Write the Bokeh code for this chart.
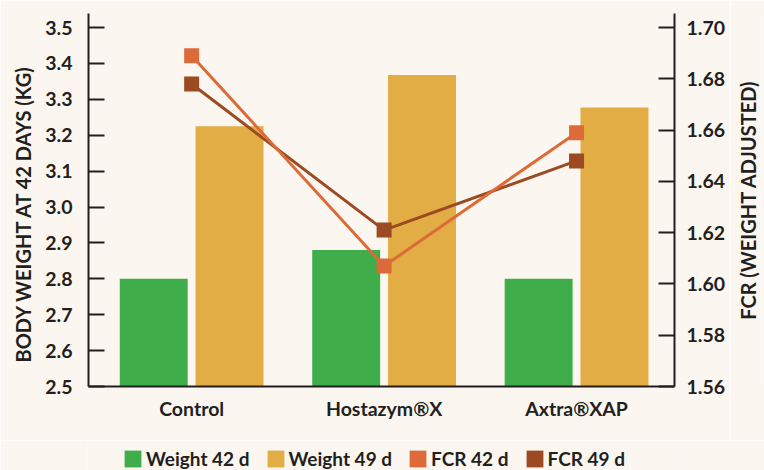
from bokeh.plotting import figure
from bokeh.layouts import column, row
from bokeh.models import (Range1d, LinearAxis, FixedTicker, NumeralTickFormatter,
                          ColumnDataSource, Legend, LegendItem, Title)
from bokeh.transform import dodge
from bokeh.embed import file_html
from bokeh.resources import INLINE

# ---- data ----
categories = ["Control", "Hostazym®X", "Axtra®XAP"]
weight_42 = [2.80, 2.88, 2.80]
weight_49 = [3.225, 3.368, 3.277]
fcr_42 = [1.689, 1.607, 1.659]
fcr_49 = [1.678, 1.621, 1.648]
weight_ticks = [2.5, 2.6, 2.7, 2.8, 2.9, 3.0, 3.1, 3.2, 3.3, 3.4, 3.5]
fcr_ticks = [1.56, 1.58, 1.60, 1.62, 1.64, 1.66, 1.68, 1.70]
series_labels = ["Weight 42 d", "Weight 49 d", "FCR 42 d", "FCR 49 d"]
left_title = "BODY WEIGHT AT 42 DAYS (KG)"
right_title = "FCR (WEIGHT ADJUSTED)"

# ---- styles ----
BG = "#FBF7F0"
TXT = "#231F20"
GREEN = "#3FAE4A"
GOLD = "#E2AD44"
ORANGE = "#DD6B3A"
BROWN = "#9B4A22"
FONT = "Lato"
FS = "19.5px"
FS_TITLE = "20px"
FS_LEG = "19px"

xi = list(range(len(categories)))
src = ColumnDataSource(dict(x=xi, w42=weight_42, w49=weight_49, f42=fcr_42, f49=fcr_49))

p = figure(width=730, height=440, output_backend="svg", toolbar_location=None,
           x_range=Range1d(-0.536, 2.509), y_range=Range1d(2.5, 3.539),
           min_border_left=87, min_border_right=56, min_border_top=13, min_border_bottom=54,
           background_fill_color=BG, border_fill_color=BG, outline_line_color=None)
p.grid.visible = False
p.extra_y_ranges = {"fcr": Range1d(1.56, 1.7055)}

bw = 0.353
p.vbar(x=dodge("x", -0.197), top="w42", bottom=2.5, width=bw, source=src,
       fill_color=GREEN, line_color=None)
p.vbar(x=dodge("x", 0.197), top="w49", bottom=2.5, width=bw, source=src,
       fill_color=GOLD, line_color=None)

p.line(x="x", y="f49", source=src, y_range_name="fcr", line_color=BROWN, line_width=3)
p.line(x="x", y="f42", source=src, y_range_name="fcr", line_color=ORANGE, line_width=3)
p.scatter(x="x", y="f49", source=src, y_range_name="fcr", marker="square", size=15,
          fill_color=BROWN, line_color=None)
p.scatter(x="x", y="f42", source=src, y_range_name="fcr", marker="square", size=15,
          fill_color=ORANGE, line_color=None)


def style_axis(ax):
    ax.axis_line_color = TXT
    ax.axis_line_width = 2
    ax.major_tick_line_color = TXT
    ax.major_tick_line_width = 2
    ax.minor_tick_line_color = None
    ax.major_label_text_font = FONT
    ax.major_label_text_font_style = "bold"
    ax.major_label_text_font_size = FS
    ax.major_label_text_color = TXT


# x axis
xa = p.xaxis[0]
style_axis(xa)
xa.ticker = FixedTicker(ticks=xi)
xa.major_label_overrides = {i: c for i, c in zip(xi, categories)}
xa.major_tick_in = 0
xa.major_tick_out = 0
xa.major_label_standoff = 10

# left axis
ya = p.yaxis[0]
style_axis(ya)
ya.ticker = FixedTicker(ticks=weight_ticks)
ya.formatter = NumeralTickFormatter(format="0.0")
ya.major_tick_in = 16
ya.major_tick_out = 0
ya.major_label_standoff = 16

# left title (reads bottom-to-top)
p.add_layout(Title(text=left_title, align="left", offset=24, standoff=16,
                   text_font=FONT, text_font_style="bold", text_font_size=FS_TITLE,
                   text_color=TXT), "left")

# right axis
ra = LinearAxis(y_range_name="fcr")
style_axis(ra)
ra.ticker = FixedTicker(ticks=fcr_ticks)
ra.formatter = NumeralTickFormatter(format="0.00")
ra.major_tick_in = 16
ra.major_tick_out = 0
ra.major_label_standoff = 12
p.add_layout(ra, "right")

# narrow strip on the right carrying the right-hand title (reads bottom-to-top)
p3 = figure(width=34, height=440, output_backend="svg", toolbar_location=None,
            x_axis_location=None, y_axis_location=None,
            min_border_left=30, min_border_right=0, min_border_top=13, min_border_bottom=54,
            background_fill_color=BG, border_fill_color=BG, outline_line_color=None)
p3.grid.visible = False
p3.add_layout(Title(text=right_title, align="center", standoff=2,
                    text_font=FONT, text_font_style="bold", text_font_size=FS_TITLE,
                    text_color=TXT), "left")

# legend strip below the chart
p2 = figure(width=764, height=30, output_backend="svg", toolbar_location=None,
            x_range=Range1d(-0.536, 2.509), y_range=Range1d(10, 11),
            min_border_left=87, min_border_right=90, min_border_top=0, min_border_bottom=0,
            background_fill_color=BG, border_fill_color=BG, outline_line_color=None)
p2.axis.visible = False
p2.grid.visible = False
# legend swatches: zero-width bars below this strip's visible range
colors = [GREEN, GOLD, ORANGE, BROWN]
cols = ["w42", "w49", "f42", "f49"]
items = []
for lab, col, c in zip(series_labels, colors, cols):
    r = p2.vbar(x="x", top=c, bottom=0, width=0, source=src,
                fill_color=col, line_color=None)
    items.append(LegendItem(label=lab, renderers=[r]))

legend = Legend(items=items, orientation="horizontal", location=(35, 0),
                glyph_width=21, glyph_height=21, label_standoff=3, spacing=15,
                padding=0, margin=0, border_line_color=None, background_fill_alpha=0,
                label_text_font=FONT, label_text_font_style="bold",
                label_text_font_size=FS_LEG, label_text_color=TXT)
p2.add_layout(legend, "center")

layout = column(row(p, p3, spacing=0), p2, spacing=0)
open("out.html", "w").write(file_html(layout, INLINE))
